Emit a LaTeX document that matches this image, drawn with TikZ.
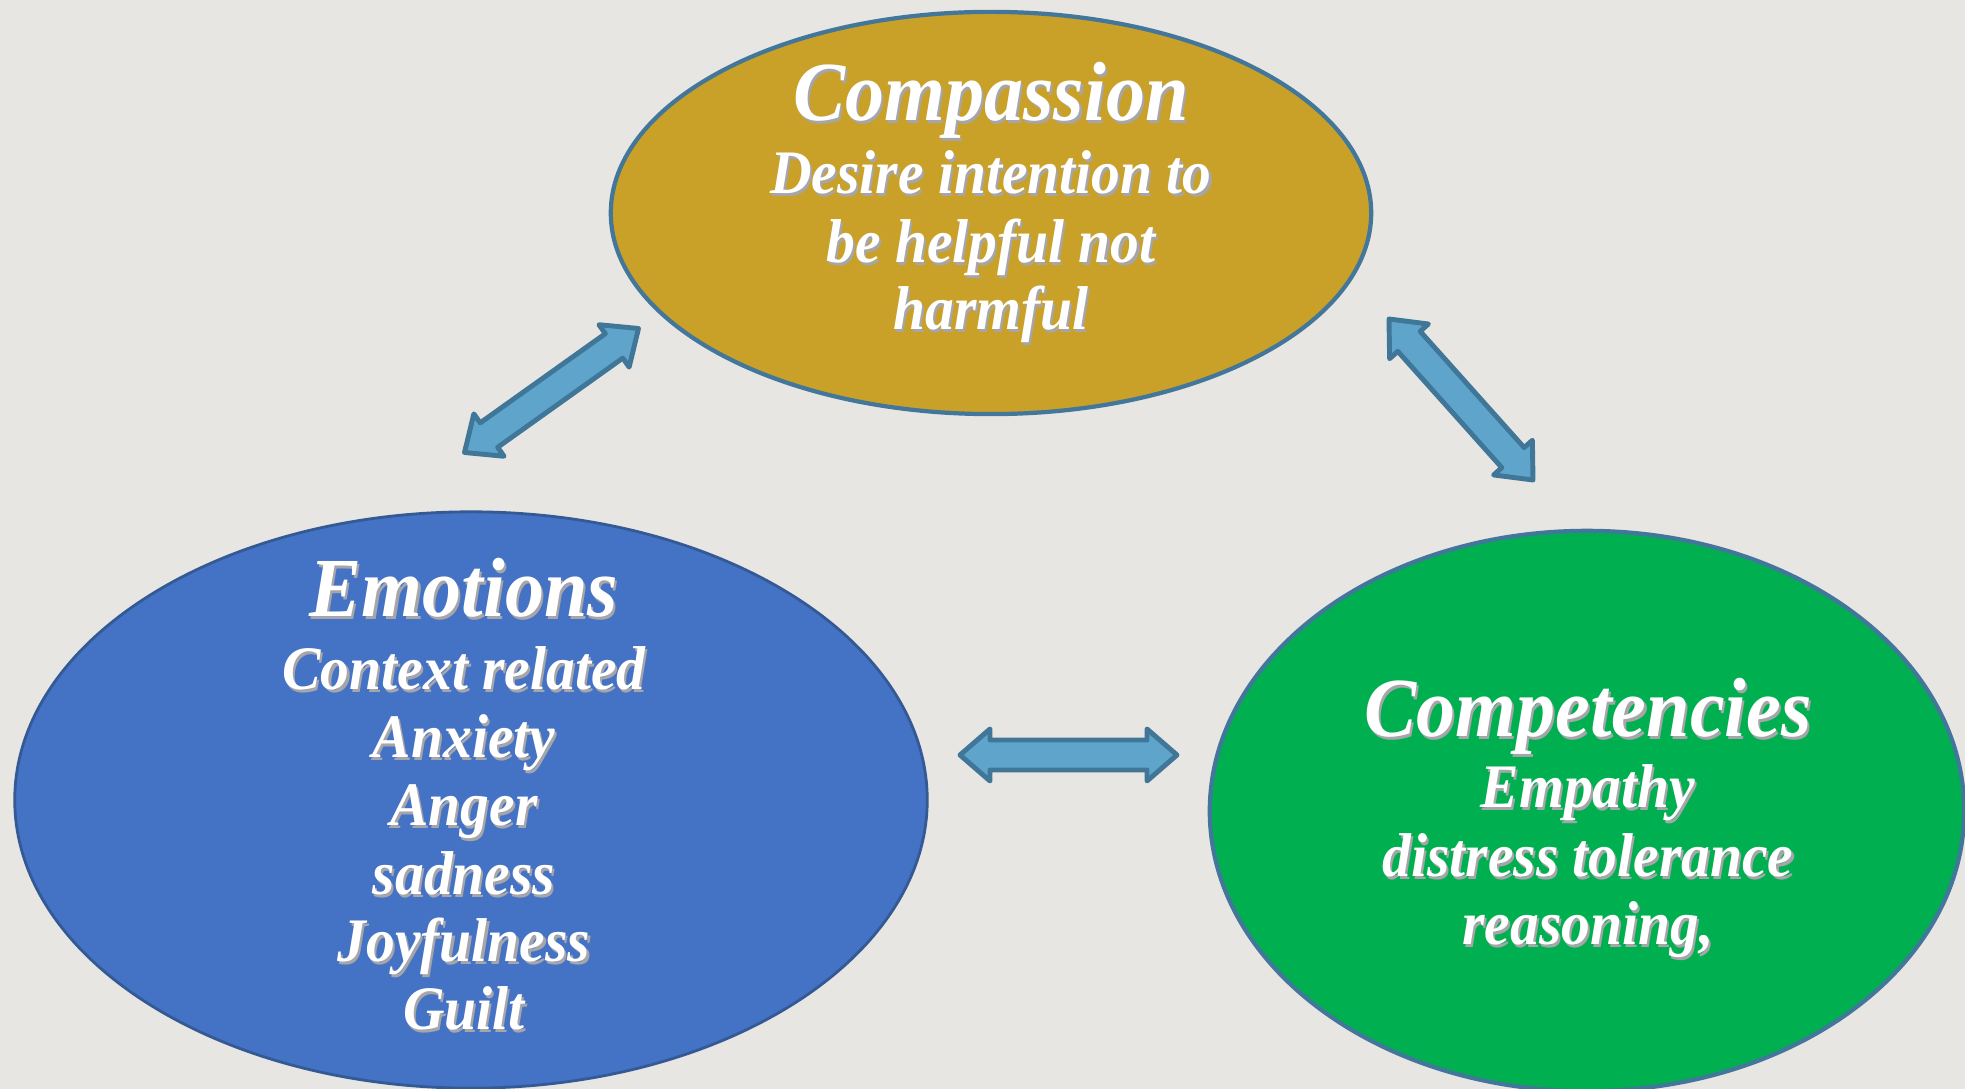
\documentclass[tikz,border=0pt]{standalone}
\usepackage{fontspec}
\setmainfont{Liberation Serif}
\newfontfamily\slidefont[FakeStretch=0.93]{Liberation Serif}
\usetikzlibrary{shapes.geometric,calc}

\definecolor{bgpaper}{RGB}{231,230,226}
\definecolor{goldfill}{RGB}{201,161,40}
\definecolor{bluefill}{RGB}{68,114,196}
\definecolor{greenfill}{RGB}{0,176,80}
\definecolor{rimblue}{RGB}{66,118,154}
\definecolor{rimdark}{RGB}{52,90,150}
\definecolor{arrowfill}{RGB}{95,165,203}
\definecolor{arrowrim}{RGB}{64,118,152}
\definecolor{letterShade}{RGB}{165,165,170}

% white lettering with a thin grey offset shade behind it
\newcommand\withshade[1]{\rlap{\kern0.6pt\raisebox{-0.6pt}{\textcolor{letterShade}{#1}}}#1}

% block double-headed arrow between two named tips
\newcommand\twowayarrow[2]{%
  \coordinate (#1-h) at ($(#1)!0.30cm!(#2)$);
  \coordinate (#2-h) at ($(#2)!0.30cm!(#1)$);
  \draw[arrowbody] (#1)
    -- ($(#1-h)!0.26cm!-90:(#2)$) -- ($(#1-h)!0.15cm!-90:(#2)$)
    -- ($(#2-h)!0.15cm!90:(#1)$) -- ($(#2-h)!0.26cm!90:(#1)$)
    -- (#2)
    -- ($(#2-h)!0.26cm!-90:(#1)$) -- ($(#2-h)!0.15cm!-90:(#1)$)
    -- ($(#1-h)!0.15cm!90:(#2)$) -- ($(#1-h)!0.26cm!90:(#2)$)
    -- cycle;}

\begin{document}
\begin{tikzpicture}[x=0.01cm,y=-0.01cm,
  bubble/.style={ellipse, inner sep=0pt},
  arrowbody/.style={fill=arrowfill, draw=arrowrim, line width=1.4pt, line join=round},
  headline/.style={anchor=base, inner sep=0pt, text=white,
    font=\slidefont\bfseries\itshape\fontsize{23.9pt}{26pt}\selectfont},
  bodyline/.style={anchor=base, inner sep=0pt, text=white,
    font=\slidefont\bfseries\itshape\fontsize{17.6pt}{19.4pt}\selectfont}]

\useasboundingbox (0,0) rectangle (1965,1089);
\fill[bgpaper] (0,0) rectangle (1965,1089);

% the three concept ellipses
\node[bubble, fill=goldfill, draw=rimblue, line width=1.2pt,
      minimum width=7.6cm, minimum height=4.02cm] (compassion) at (991,213) {};
\node[bubble, fill=bluefill, draw=rimdark, line width=0.8pt,
      minimum width=9.12cm, minimum height=5.76cm] (emotions) at (471,800) {};
\node[bubble, fill=greenfill, draw=rimblue, line width=1.2pt,
      minimum width=7.54cm, minimum height=5.6cm] (competencies) at (1587,811) {};

% Compassion text
\node[headline] (compassion-title) at (991,121) {\withshade{Compassion}};
\foreach \txt/\yy [count=\i] in {Desire intention to/194, be helpful not/263, harmful/330}
  \node[bodyline] (compassion-\i) at (991,\yy) {\withshade{\txt}};

% Emotions text
\node[headline] (emotions-title) at (464,617) {\withshade{Emotions}};
\foreach \txt/\yy [count=\i] in {Context related/690, Anxiety/758, Anger/826,
                                 sadness/895, Joyfulness/962, Guilt/1030}
  \node[bodyline] (emotions-\i) at (464,\yy) {\withshade{\txt}};

% Competencies text
\node[headline] (competencies-title) at (1588,737) {\withshade{Competencies}};
\foreach \txt/\yy [count=\i] in {Empathy/808, distress tolerance/877, {reasoning,}/945}
  \node[bodyline] (competencies-\i) at (1588,\yy) {\withshade{\txt}};

% arrow tips
\coordinate (ce-a) at (464.5,452.5);
\coordinate (ce-b) at (638.5,328.5);
\coordinate (cc-a) at (1389,319);
\coordinate (cc-b) at (1533,480);
\coordinate (ec-a) at (960,755);
\coordinate (ec-b) at (1177,755);

\twowayarrow{ce-a}{ce-b}
\twowayarrow{cc-a}{cc-b}
\twowayarrow{ec-a}{ec-b}

\end{tikzpicture}
\end{document}
